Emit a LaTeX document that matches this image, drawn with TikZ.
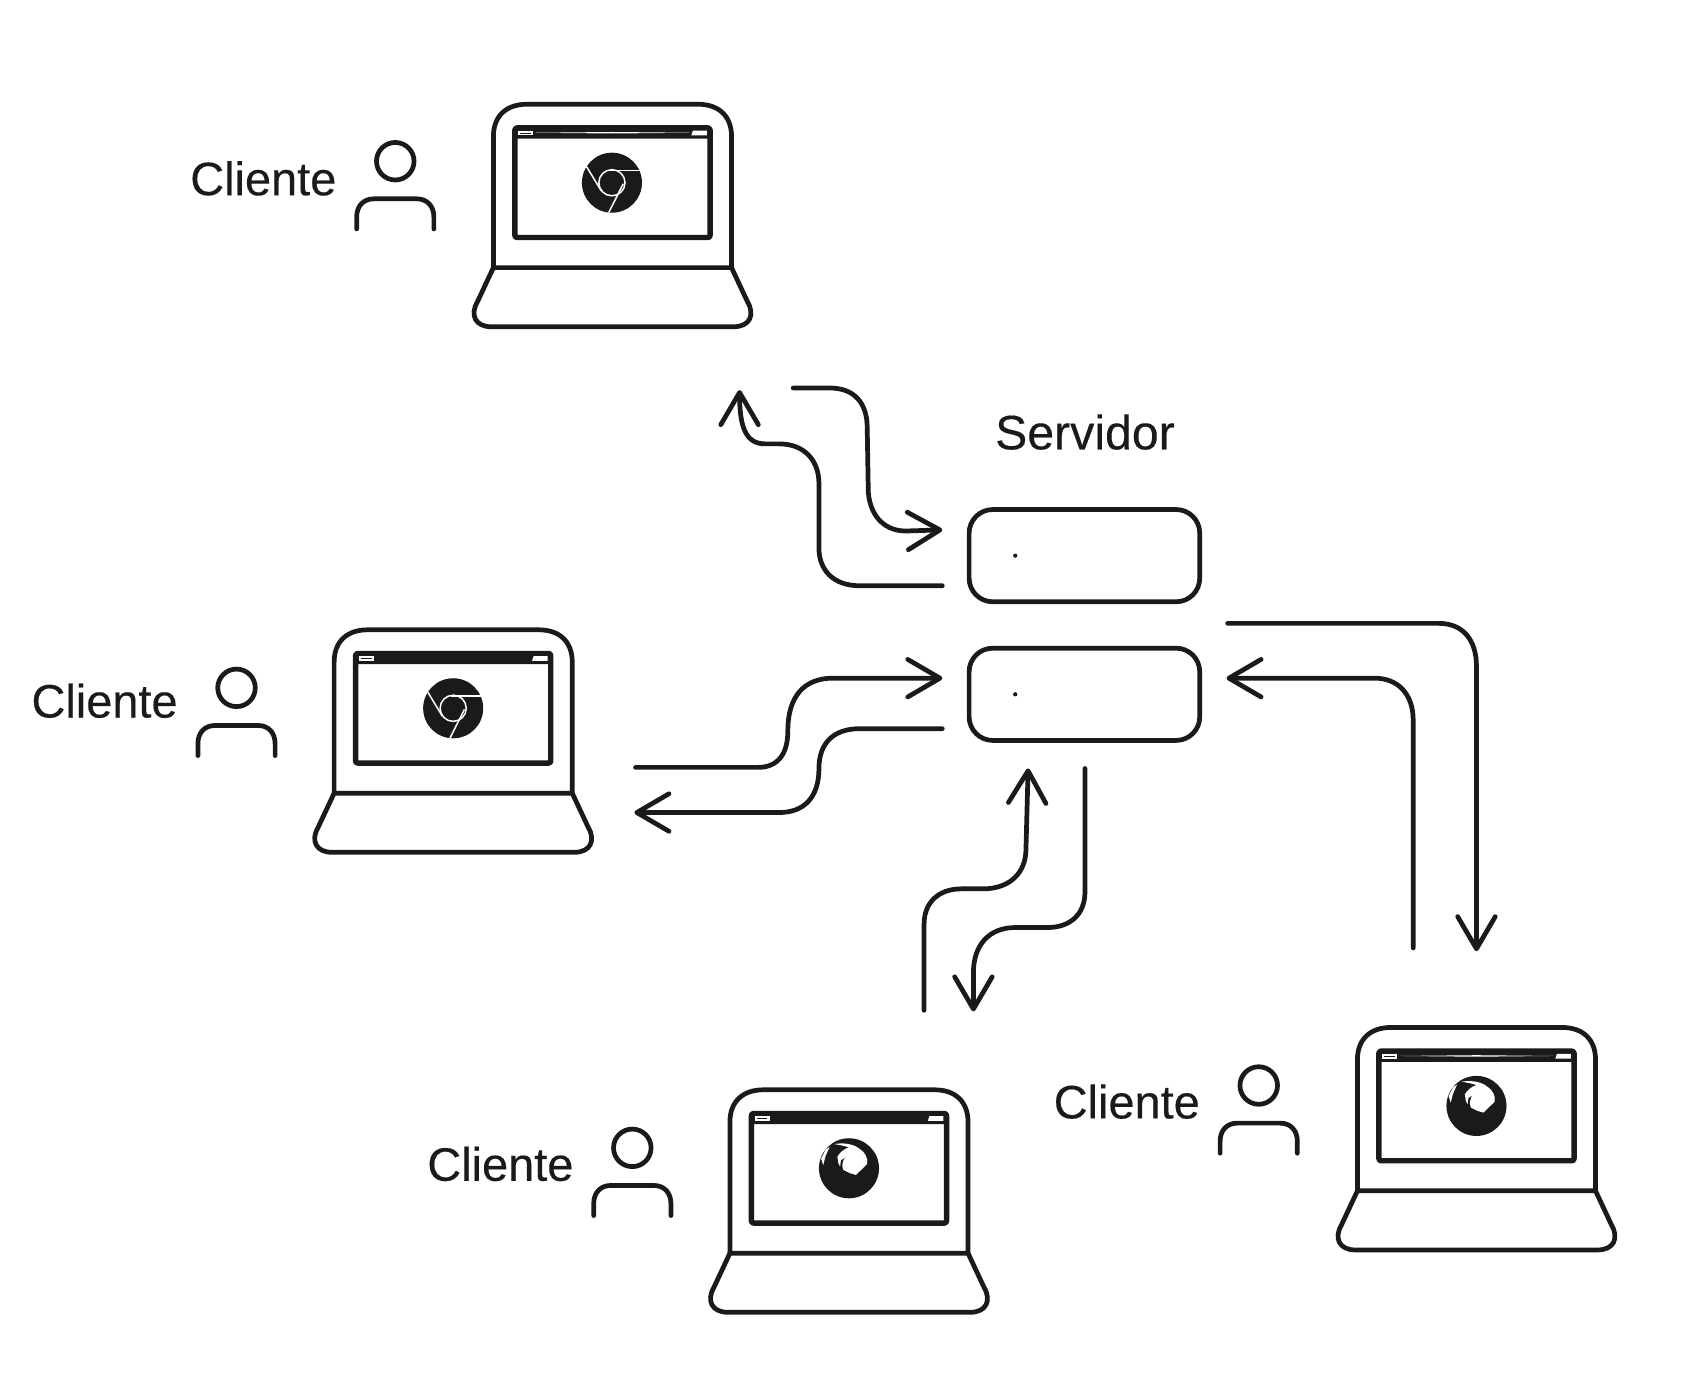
\documentclass[tikz,border=0pt]{standalone}
\usepackage{fontspec}
\setmainfont{Liberation Sans}
\newfontfamily\sketchfont[FakeBold=0.3]{Liberation Sans}
\usetikzlibrary{arrows.meta}
\definecolor{ink}{HTML}{1A1A1A}
\tikzset{
  x=0.1mm, y=-0.1002mm,
  stroke/.style={draw=ink, line width=0.44mm, line cap=round, line join=round},
  link/.style={stroke, -{Straight Barb[length=3mm,width=3.5mm,round]}},
  label/.style={font=\sketchfont\fontsize{12.45pt}{14pt}\selectfont, text=ink, inner sep=0pt},
  biglabel/.style={font=\sketchfont\fontsize{12.8pt}{14pt}\selectfont, text=ink, inner sep=0pt},
  server/.style={stroke, rounded corners=2.2mm, minimum width=21.5mm, minimum height=8.6mm, inner sep=0pt},
  laptopframe/.pic={
    \draw[stroke] (-111,152) -- (-111,30) .. controls (-111,10) and (-98,0) .. (-80,0)
      -- (80,0) .. controls (98,0) and (111,10) .. (111,30) -- (111,152) -- cycle;
    \draw[stroke] (-111,152) -- (-126,184) .. controls (-133,196) and (-128,207) .. (-113,207)
      -- (113,207) .. controls (128,207) and (133,196) .. (126,184) -- (111,152);
    \draw[stroke, line width=0.5mm, rounded corners=0.2mm] (-91,22) rectangle (91,124);
    \fill[ink, rounded corners=0.2mm] (-92,21) rectangle (92,32);
    \fill[white] (-88,24.5) rectangle (-74,29);
    \draw[ink, line width=0.06mm] (-86,26.7) -- (-76,26.7);
    \fill[white] (75,24.5) -- (88,24.5) -- (88,29) -- (73.5,29) -- cycle;
  },
  addressbar/.pic={\fill[white] (-72,26.5) -- (0,25.8) -- (72,26.5) -- (0,27.2) -- cycle;},
  chromeicon/.pic={
    \fill[ink] (0,0) circle (2.8mm);
    \begin{scope}[draw=white, line width=0.14mm]
      \draw (0,0) circle (1.22mm);
      \draw (-24,-15.5) -- (-10,7.5);
      \draw (26,-11.4) -- (-2.2,-11.4);
      \draw (-3,27.8) -- (10.5,1);
    \end{scope}
  },
  firefoxicon/.pic={
    \fill[ink] (0,0) circle (2.8mm);
    % swirl
    \fill[white] (-14,-22.5) .. controls (-6,-24) and (4,-23) .. (10,-18)
      .. controls (15,-15) and (18,-9) .. (17,-4) -- (6.5,6.2) -- (0.9,4.6) -- (-5.3,1.5)
      .. controls (-6.5,-2) and (-6.5,-5) .. (-5,-8) -- (-2.2,-10.8) -- (-7.5,-7.5) -- (-8.3,-1.5)
      -- (-10,-5) -- (-10.8,-10.8) .. controls (-9,-14) and (-5,-18) .. (0,-19.5)
      .. controls (-5,-21) and (-10,-22) .. (-14,-22.5) -- cycle;
    % left wedge
    \fill[white] (-26,-9) -- (-22,-17) -- (-18,-20) -- (-22,-11) -- (-24,-3) -- cycle;
  },
  personicon/.pic={
    \draw[stroke] (0,0) circle (1.75mm);
    \draw[stroke] (-36,63) -- (-36,52) .. controls (-36,42) and (-30,35) .. (-20,35)
      -- (20,35) .. controls (30,35) and (36,42) .. (36,52) -- (36,63);
  }
}
\begin{document}
\begin{tikzpicture}
\useasboundingbox (0,0) rectangle +(157mm,-130.52mm);
\begin{scope}[xshift=0.15mm]
% clients
\pic (lapA) at (569.5,97) {laptopframe};
\pic at (569.5,97) {addressbar};
\pic (iconA) at (569,170) {chromeicon};
\pic (perA) at (367,150) {personicon};
\node[label] (cliA) at (244,166) {Cliente};

\pic (lapB) at (421,586) {laptopframe};
\pic (iconB) at (421,659) {chromeicon};
\pic (perB) at (219,640) {personicon};
\node[label] (cliB) at (96,652) {Cliente};

\pic (lapC) at (790,1014) {laptopframe};
\pic (iconC) at (790,1087) {firefoxicon};
\pic (perC) at (588,1068) {personicon};
\node[label] (cliC) at (465,1083) {Cliente};

\pic (lapD) at (1375,956) {laptopframe};
\pic at (1375,956) {addressbar};
\pic (iconD) at (1375,1029) {firefoxicon};
\pic (perD) at (1172,1010) {personicon};
\node[label] (cliD) at (1049,1025) {Cliente};

% servers
\node[biglabel] (srvlabel) at (1010,402) {Servidor};
\node[server] (srvA) at (1009.5,517) {};
\node[server] (srvB) at (1009.5,646) {};
\fill[ink] (945,517) circle (0.2mm);
\fill[ink] (945,646) circle (0.2mm);

% free ends
\coordinate (a1s) at (738,361); \coordinate (a1e) at (877,493);
\coordinate (a2s) at (877,545); \coordinate (a2e) at (688,363);
\coordinate (a3s) at (591,714); \coordinate (a3e) at (877,631);
\coordinate (a4s) at (877,678); \coordinate (a4e) at (590,756);
\coordinate (a5s) at (860,940); \coordinate (a5e) at (957,715);
\coordinate (a6s) at (1010,715); \coordinate (a6e) at (906,941);
\coordinate (a7s) at (1143,580); \coordinate (a7e) at (1375,885);
\coordinate (a8s) at (1316,882); \coordinate (a8e) at (1142,631);

\draw[link] (a1s) -- (772,361) .. controls (795,361) and (807,375) .. (807,398) -- (808,458)
  .. controls (810,482) and (825,495) .. (845,494) -- (a1e);
\draw[link] (a2s) -- (800,545) .. controls (775,545) and (762,530) .. (762,510) -- (762,450)
  .. controls (762,428) and (748,413) .. (725,413) -- (712,413) .. controls (695,413) and (688,400) .. (a2e);
\draw[link] (a3s) -- (705,714) .. controls (725,714) and (733,700) .. (733,680)
  .. controls (733,648) and (748,631) .. (775,631) -- (a3e);
\draw[link] (a4s) -- (800,678) .. controls (775,678) and (762,692) .. (762,715)
  .. controls (762,742) and (748,756) .. (725,756) -- (a4e);
\draw[link] (a5s) -- (860,860) .. controls (860,840) and (873,827) .. (895,827) -- (915,827)
  .. controls (940,827) and (955,812) .. (955,790) -- (a5e);
\draw[link] (a6s) -- (1010,830) .. controls (1010,850) and (997,863) .. (975,863) -- (945,863)
  .. controls (920,863) and (906,880) .. (906,905) -- (a6e);
\draw[link] (a7s) -- (1340,580) .. controls (1362,580) and (1375,595) .. (1375,620) -- (a7e);
\draw[link] (a8s) -- (1316,670) .. controls (1316,646) and (1302,631) .. (1280,631) -- (a8e);
\end{scope}
\end{tikzpicture}
\end{document}
